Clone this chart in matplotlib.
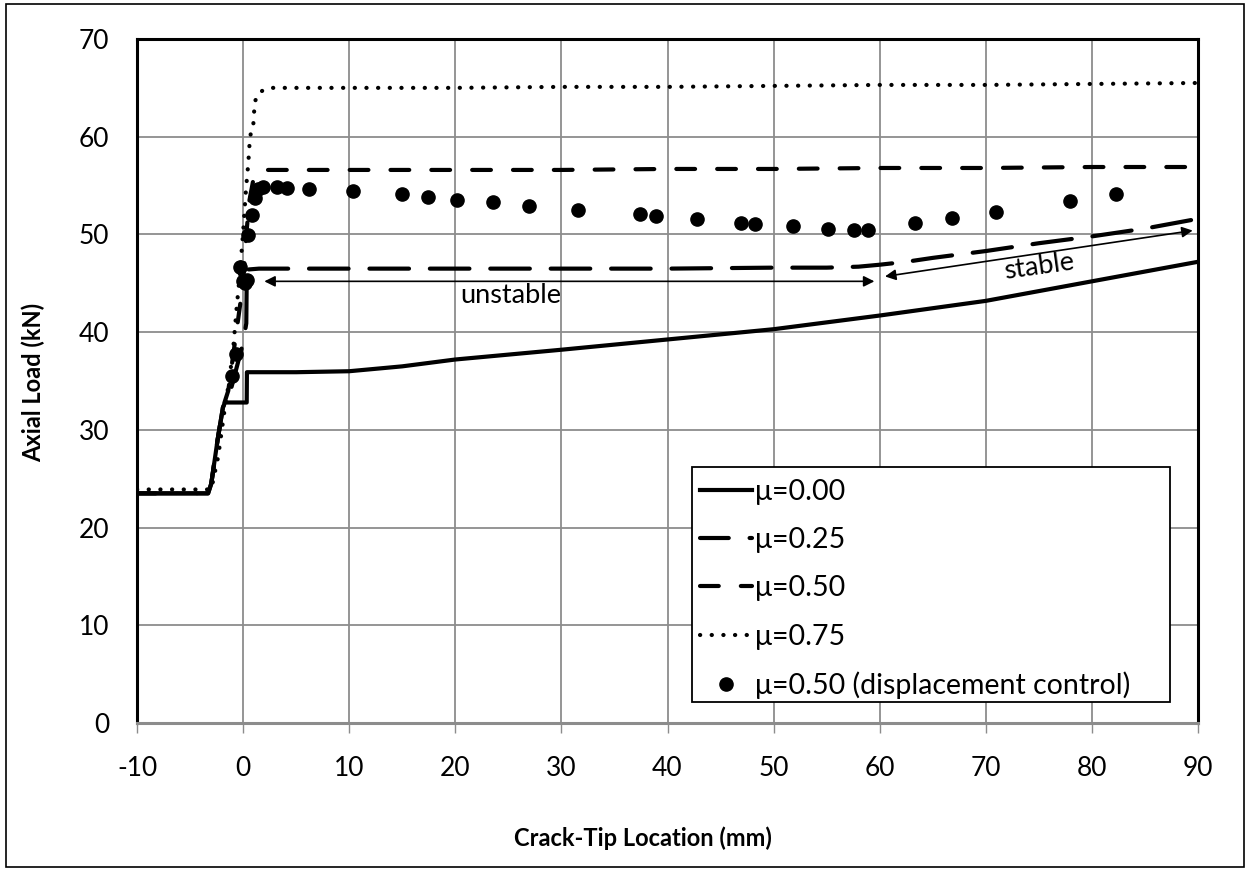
import matplotlib
matplotlib.use('Agg')
import matplotlib.pyplot as plt
from matplotlib.lines import Line2D
from matplotlib.patches import Rectangle

plt.rcParams['font.family'] = ['Lato', 'DejaVu Sans']
plt.rcParams['axes.unicode_minus'] = False

# crack-tip location (mm) / axial load (kN)
x_mu000 = [-10, -3.3, -3.0, -2.4, -1.9, -1.7, 0.34, 0.36, 5, 10, 15, 20, 30, 40, 50, 60, 70, 80, 90]
y_mu000 = [23.5, 23.5, 24.5, 29.0, 32.3, 32.8, 32.8, 35.9, 35.9, 36.0, 36.5, 37.2, 38.2, 39.25, 40.3, 41.7, 43.2, 45.2, 47.2]

x_mu025 = [-10, -3.3, -3.0, -2.4, -1.9, -1.7, -1.4, 0.0, 0.3, 0.35, 1.5, 10, 20, 30, 40, 50, 55, 58, 60, 62.5, 65, 70, 75, 80, 85, 90]
y_mu025 = [23.5, 23.5, 24.5, 29.0, 32.3, 32.8, 33.1, 38.9, 40.9, 46.4, 46.5, 46.5, 46.5, 46.5, 46.5, 46.6, 46.6, 46.7, 46.9, 47.2, 47.6, 48.3, 49.1, 49.8, 50.6, 51.6]

x_mu050 = [-10, -3.3, -3.0, -2.4, -1.9, -1.4, 0.0, 0.3, 0.6, 1.0, 1.5, 2, 10, 20, 30, 40, 50, 60, 70, 80, 90]
y_mu050 = [23.5, 23.5, 24.5, 29.0, 32.3, 34.0, 45.0, 50.0, 53.5, 55.8, 56.5, 56.6, 56.6, 56.6, 56.6, 56.7, 56.7, 56.8, 56.8, 56.9, 56.9]

x_mu075 = [-10, -3.0, -2.34, -1.7, -1.3, -0.92, -0.6, -0.3, 0.02, 0.27, 0.49, 0.65, 0.96, 1.1, 1.6, 2.5, 10, 20, 30, 40, 50, 60, 70, 80, 90]
y_mu075 = [23.9, 23.9, 27.3, 32.4, 35.1, 38.5, 42.6, 46.0, 50.5, 54.6, 57.3, 60.0, 61.2, 63.6, 64.6, 65.0, 65.0, 65.0, 65.1, 65.1, 65.2, 65.3, 65.3, 65.4, 65.5]

x_disp = [-1.0, -0.7, -0.3, 0.0, 0.18, 0.34, 0.49, 0.81, 1.12, 1.43, 1.9, 3.17, 4.17, 6.24, 10.39, 14.95, 17.43,
          20.13, 23.52, 26.95, 31.54, 37.41, 38.92, 42.75, 46.93, 48.25, 51.86, 55.16, 57.61, 58.93,
          63.33, 66.78, 70.93, 77.93, 82.27]
y_disp = [35.5, 37.8, 46.7, 45.2, 45.0, 45.3, 49.9, 52.0, 53.7, 54.6, 54.9, 54.9, 54.8, 54.6, 54.4, 54.1, 53.8,
          53.5, 53.3, 52.9, 52.5, 52.1, 51.9, 51.6, 51.2, 51.1, 50.9, 50.6, 50.5, 50.5,
          51.2, 51.7, 52.3, 53.4, 54.1]

x_ticks = [-10, 0, 10, 20, 30, 40, 50, 60, 70, 80, 90]
y_ticks = [0, 10, 20, 30, 40, 50, 60, 70]

fig = plt.figure(figsize=(12.5, 8.69), dpi=100)
ax = fig.add_axes([137 / 1250, 1 - 723 / 869, (1198 - 137) / 1250, (723 - 39) / 869])

lw = 3.0
long_dash = (9.5, 5.0)
ax.plot(x_mu000, y_mu000, color='black', lw=lw, solid_joinstyle='round', label='μ=0.00', zorder=3)
ax.plot(x_mu025, y_mu025, color='black', lw=lw, linestyle=(0, long_dash),
        dash_capstyle='round', label='μ=0.25', zorder=3)
ax.plot(x_mu050, y_mu050, color='black', lw=lw, linestyle=(0, (4.5, 5.3)),
        dash_capstyle='round', label='μ=0.50', zorder=3)
ax.plot(x_mu075, y_mu075, color='black', lw=lw, linestyle=(0, (0.05, 2.75)),
        dash_capstyle='round', label='μ=0.75', zorder=3)
ax.plot(x_disp, y_disp, 'o', color='black', ms=9.5, label='μ=0.50 (displacement control)', zorder=4)

ax.set_xlim(-10, 90)
ax.set_ylim(0, 70)
ax.set_xticks(x_ticks)
ax.set_yticks(y_ticks)
ax.grid(True, color='#8c8c8c', lw=1.3, zorder=0)
ax.set_axisbelow(True)

for side in ['top', 'left', 'right']:
    ax.spines[side].set_color('black')
    ax.spines[side].set_linewidth(2.2)
ax.spines['bottom'].set_color('#8c8c8c')
ax.spines['bottom'].set_linewidth(2.2)

ax.tick_params(axis='x', direction='out', length=7, width=1, color='#8c8c8c', pad=17, labelsize=19)
ax.tick_params(axis='y', length=0, pad=20, labelsize=19)

ax.set_xlabel('Crack-Tip Location (mm)', fontsize=17, fontweight='bold')
ax.set_ylabel('Axial Load (kN)', fontsize=17, fontweight='bold')
ax.xaxis.set_label_coords((643 - 137) / 1061, (723 - 838) / 684)
ax.xaxis.label.set_va('center')
ax.yaxis.set_label_coords((33 - 137) / 1061, (723 - 382) / 684)
ax.yaxis.label.set_va('center')

# stability annotations
arrow = dict(arrowstyle='<|-|>', lw=1.2, color='black', mutation_scale=16, shrinkA=0, shrinkB=0)
ax.annotate('', xy=(2.0, 45.2), xytext=(59.5, 45.2), arrowprops=arrow, zorder=5)
ax.text(25.2, 43.7, 'unstable', fontsize=19.5, ha='center', va='center')
ax.annotate('', xy=(60.5, 45.7), xytext=(89.5, 50.4), arrowprops=arrow, zorder=5)
ax.text(75.0, 46.7, 'stable', fontsize=19.5, ha='center', va='center', rotation=8)

# legend box drawn separately so its size matches the original
ax.add_patch(Rectangle(((692 - 137) / 1061, (723 - 702) / 684), 478 / 1061, 235 / 684,
                       transform=ax.transAxes, facecolor='white', edgecolor='black', lw=1.3, zorder=5))
handles, labels = ax.get_legend_handles_labels()
# legend sample for mu=0.25 starts part way into the dash, like the original ("— ·")
handles[1] = Line2D([], [], color='black', lw=lw, linestyle=(2.6, long_dash), dash_capstyle='round')
leg = ax.legend(handles, labels, loc='upper left', bbox_to_anchor=((700 - 137) / 1061, (723 - 479) / 684),
                fontsize=20.5, frameon=False, handlelength=1.82, handletextpad=0.1,
                labelspacing=0.78, borderpad=0, borderaxespad=0)
leg.set_zorder(6)

fig.patches.append(Rectangle((6 / 1250, 2 / 869), 1238 / 1250, 863 / 869, transform=fig.transFigure,
                             fill=False, edgecolor='black', lw=1.2))

fig.savefig('out.png', dpi=100)
